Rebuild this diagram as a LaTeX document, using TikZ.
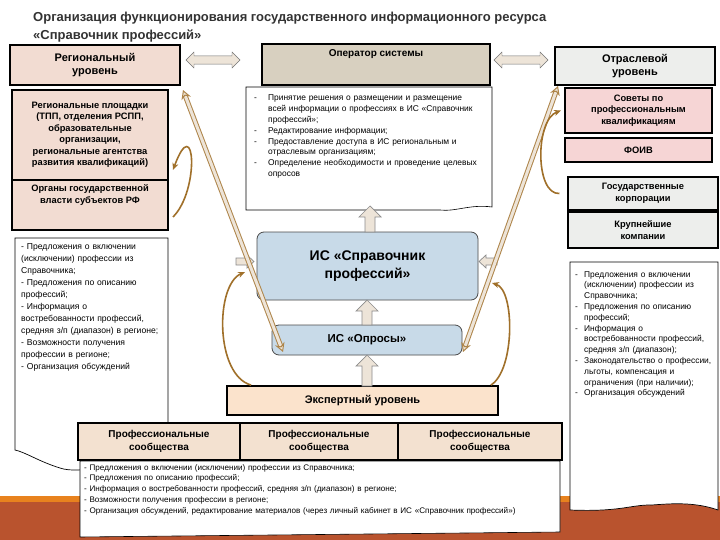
\documentclass[tikz,border=0pt]{standalone}
\usepackage{fontspec}
\setmainfont{Liberation Sans}
\usetikzlibrary{shapes.arrows,arrows.meta,shadows}
\definecolor{regpink}{HTML}{F2DCD2}
\definecolor{opgray}{HTML}{D8D0C0}
\definecolor{lgray}{HTML}{EDEEEC}
\definecolor{pinkb}{HTML}{F6D5D5}
\definecolor{isblue}{HTML}{C8DAE8}
\definecolor{peach}{HTML}{FBE3CC}
\definecolor{commun}{HTML}{F3E1D0}
\definecolor{brn}{HTML}{A0702A}
\definecolor{afill}{HTML}{EDE4D8}
\definecolor{band}{HTML}{B9532E}
\definecolor{bandtop}{HTML}{E8821E}
\tikzset{
 box/.style={draw=black, line width=2pt, align=center, font=\bfseries\fontsize{11}{13.5}\selectfont, inner sep=1pt},
 sbox/.style={box, font=\bfseries\fontsize{9.3}{11.5}\selectfont},
 isbox/.style={draw=black!70, line width=0.8pt, fill=isblue, rounded corners=7pt, align=center,
   font=\bfseries\fontsize{14}{18}\selectfont, drop shadow={shadow xshift=0pt, shadow yshift=0pt, opacity=0.35, fill=brn!60}},
 txt/.style={font=\fontsize{8.4}{10.8}\selectfont, align=left, inner sep=0pt, anchor=north west},
 blk/.style={draw=black!45, fill=afill, line width=0.7pt},
 harr/.style={double arrow, draw=black!55, fill=afill, minimum width=16pt, minimum height=54pt, double arrow head extend=2pt, inner sep=2pt},
 curv/.style={draw=brn, line width=1.6pt, -{Stealth[length=7pt,width=6pt]}},
}
\newcommand{\itm}[1]{\par\hangindent=9pt\hangafter=1\noindent\makebox[9pt][l]{-}#1\par}
\newcommand{\itmw}[1]{\par\hangindent=14pt\hangafter=1\noindent\makebox[14pt][l]{-}#1\par}
\newcommand{\uparr}[3]{\draw[blk] (#1-5,#3) -- (#1-5,#2+11) -- (#1-11,#2+11) -- (#1,#2) -- (#1+11,#2+11) -- (#1+5,#2+11) -- (#1+5,#3) -- cycle;}
\begin{document}
\begin{tikzpicture}[x=1pt,y=-1pt]
\useasboundingbox (0,0) rectangle (720,540);
\fill[white] (0,0) rectangle (720,540);
\fill[bandtop] (0,496) rectangle (720,502);
\fill[band] (0,502) rectangle (720,540);
% title
\node[anchor=west, font=\bfseries\fontsize{13}{15}\selectfont, text=black!80, inner sep=0pt] (t1) at (33,18) {Организация функционирования государственного информационного ресурса};
\node[anchor=west, font=\bfseries\fontsize{13}{15}\selectfont, text=black!80, inner sep=0pt] (t2) at (33,36) {«Справочник профессий»};

% left column
\node[box, fill=regpink, minimum width=170pt, minimum height=40pt] (reg) at (95,65) {Региональный\\уровень};
\node[sbox, fill=regpink, minimum width=156pt, minimum height=90pt] (rp) at (90,135) {Региональные площадки\\(ТПП, отделения РСПП,\\образовательные\\организации,\\региональные агентства\\развития квалификаций)};
\node[sbox, fill=regpink, minimum width=156pt, minimum height=50pt] (org) at (90,205) {Органы государственной\\власти субъектов РФ\\[10pt]};
\draw[fill=white, line width=0.7pt] (15,238) -- (168,238) -- (168,458) -- (158,458) .. controls (120,462) and (80,475) .. (60,468) .. controls (40,462) and (25,452) .. (15,450) -- cycle;
\node[txt, font=\fontsize{8.6}{12}\selectfont, text width=138pt] (lt) at (21,243) {%
- Предложения о включении (исключении) профессии из Справочника;\\
- Предложения по описанию профессий;\\
- Информация о востребованности профессий, средняя з/п (диапазон) в регионе;\\
- Возможности получения профессии в регионе;\\
- Организация обсуждений};

% operator
\node[box, fill=opgray, minimum width=228pt, minimum height=41pt] (op) at (376,64.5) {};
\node[font=\bfseries\fontsize{10}{12}\selectfont] (opt) at (376,54) {Оператор системы};
\draw[fill=white, line width=0.6pt] (246,87) -- (492,87) -- (492,207) .. controls (470,204) and (455,212) .. (440,210) -- (246,210) -- cycle;
\node[txt, text width=232pt] (opl) at (254,90) {%
\itmw{Принятие решения о размещении и размещение всей информации о профессиях в ИС «Справочник профессий»;}
\itmw{Редактирование информации;}
\itmw{Предоставление доступа в ИС региональным и отраслевым организациям;}
\itmw{Определение необходимости и проведение целевых опросов}};

% right column
\node[box, fill=lgray, minimum width=160pt, minimum height=38pt] (otr) at (635,66) {Отраслевой\\уровень};
\node[sbox, fill=pinkb, minimum width=147pt, minimum height=45pt] (sov) at (638.5,110.5) {Советы по\\профессиональным\\квалификациям};
\node[sbox, fill=pinkb, minimum width=147pt, minimum height=24pt] (foiv) at (638.5,150) {ФОИВ};
\node[sbox, fill=lgray, line width=1.2pt, minimum width=150pt, minimum height=33pt] (gk) at (643,193.5) {Государственные\\корпорации};
\node[sbox, fill=lgray, line width=1.2pt, minimum width=150pt, minimum height=36pt] (kk) at (643,230) {Крупнейшие\\компании};
\draw[fill=white, line width=0.7pt] (570,262) -- (718,262) -- (718,510) .. controls (690,500) and (660,505) .. (650,505) .. controls (630,505) and (620,512) .. (570,510) -- cycle;
\node[txt, text width=142pt] (rt) at (575,266) {%
\itm{Предложения о включении (исключении) профессии из Справочника;}
\itm{Предложения по описанию профессий;}
\itm{Информация о востребованности профессий, средняя з/п (диапазон);}
\itm{Законодательство о профессии, льготы, компенсация и ограничения (при наличии);}
\itm{Организация обсуждений}};

% double arrows
\node[harr] (ha1) at (213,60) {};
\node[harr] (ha2) at (521,60) {};

% IS
\node[isbox, minimum width=221pt, minimum height=68pt] (is1) at (367.5,266) {ИС «Справочник\\профессий»};
\node[isbox, font=\bfseries\fontsize{11.5}{13}\selectfont, minimum width=190pt, minimum height=30pt] (is2) at (367,340) {ИС «Опросы»};
\node[box, fill=peach, line width=1.8pt, minimum width=271pt, minimum height=29pt] (exp) at (362.5,400.5) {Экспертный уровень};

% communities
\node[sbox, fill=commun, font=\bfseries\fontsize{10}{12.5}\selectfont, minimum width=162pt, minimum height=37pt] (pc1) at (159,441.5) {Профессиональные\\сообщества};
\node[sbox, fill=commun, font=\bfseries\fontsize{10}{12.5}\selectfont, minimum width=158pt, minimum height=37pt] (pc2) at (319,441.5) {Профессиональные\\сообщества};
\node[sbox, fill=commun, font=\bfseries\fontsize{10}{12.5}\selectfont, minimum width=164pt, minimum height=37pt] (pc3) at (480,441.5) {Профессиональные\\сообщества};
\draw[fill=white, line width=0.6pt] (80,461) -- (560,461) -- (560,532) -- (80,537) -- cycle;
\node[txt, font=\fontsize{8.1}{10.8}\selectfont, text width=472pt] (bt) at (84,464) {%
- Предложения о включении (исключении) профессии из Справочника;\\
- Предложения по описанию профессий;\\
- Информация о востребованности профессий, средняя з/п (диапазон) в регионе;\\
- Возможности получения профессии в регионе;\\
- Организация обсуждений, редактирование материалов (через личный кабинет в ИС «Справочник профессий»)};

% vertical block arrows
\uparr{370}{206}{232}
\uparr{367}{300}{325}
\uparr{367}{355}{386}
\draw[blk] (236,258) -- (247,258) -- (247,255) -- (254,261.5) -- (247,268) -- (247,265) -- (236,265) -- cycle;
\draw[blk] (497,258) -- (486,258) -- (486,255) -- (479,261.5) -- (486,268) -- (486,265) -- (497,265) -- cycle;

% diagonal two-way arrows
\coordinate (d1a) at (183,90);
\coordinate (d1b) at (283,352);
\coordinate (d2a) at (558,86);
\coordinate (d2b) at (463,352);
\foreach \a/\b in {d1a/d1b,d2a/d2b}{
 \draw[draw=brn!85, {Stealth[length=9pt,width=10pt,fill=afill]}-{Stealth[length=9pt,width=10pt,fill=afill]}, line width=1pt, double=afill, double distance=3pt] (\a) -- (\b);
}

% curved arrows
\draw[curv] ([xshift=4pt,yshift=-12pt]org.east) .. controls (200,190) and (195,110) .. ([xshift=4pt,yshift=-35pt]rp.east);
\draw[curv] ([xshift=-8pt]gk.west) .. controls (535,195) and (535,120) .. ([xshift=-3pt]sov.west);
\draw[curv] ([xshift=25pt]exp.north west) .. controls (215,375) and (215,285) .. (245,272);
\draw[curv] ([xshift=-8pt]exp.north east) .. controls (515,370) and (515,290) .. (492,283);
\end{tikzpicture}
\end{document}
